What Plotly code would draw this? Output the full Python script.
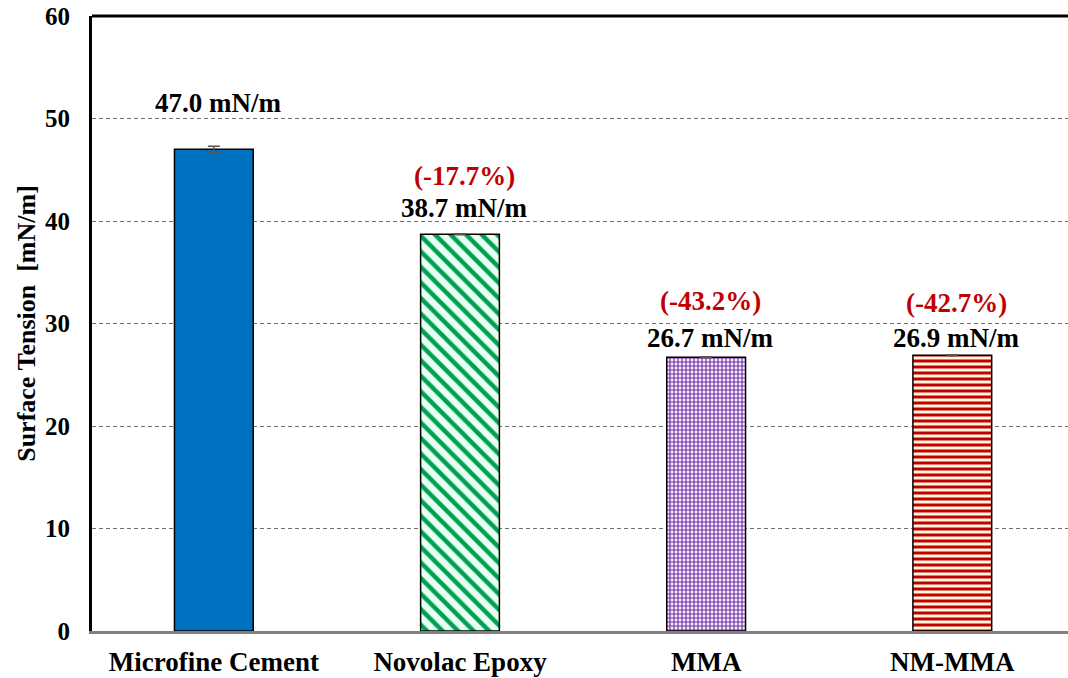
import plotly.graph_objects as go

categories = ["Microfine Cement", "Novolac Epoxy", "MMA", "NM-MMA"]
values = [47.0, 38.7, 26.7, 26.9]
errors = [0.3, 0.05, 0.05, 0.05]
value_labels = ["47.0 mN/m", "38.7 mN/m", "26.7 mN/m", "26.9 mN/m"]
pct_labels = ["", "(-17.7%)", "(-43.2%)", "(-42.7%)"]
y_ticks = [0, 10, 20, 30, 40, 50, 60]

FONT = "Liberation Serif"
bg_colors = ["#0070C0", "#E6FFF5", "#F6ECFF", "#FFF6DC"]
fg_colors = ["#0070C0", "#00A050", "#7030A0", "#C00000"]
shapes_p = ["", "\\", "+", "-"]
sizes_p = [8, 11, 4, 6]
solid_p = [0.5, 0.4, 0.5, 0.5]

fig = go.Figure()
for i in range(len(categories)):
    pat = dict(shape=shapes_p[i], fgcolor=fg_colors[i], bgcolor=bg_colors[i],
               size=sizes_p[i], solidity=solid_p[i], fillmode="overlay", fgopacity=1)
    fig.add_trace(go.Bar(
        x=[i], y=[values[i]], width=0.32,
        marker=dict(color=bg_colors[i], line=dict(color="black", width=1.5), pattern=pat),
        error_y=dict(type="data", array=[errors[i]], color="#555555", thickness=1.5, width=6),
        showlegend=False,
    ))

label_offsets = [4.5, 2.6, 1.9, 1.7]
pct_offsets = [0, 5.7, 5.5, 5.1]
for i, (v, lab, pct) in enumerate(zip(values, value_labels, pct_labels)):
    fig.add_annotation(x=i, y=v + label_offsets[i], text=lab, showarrow=False, xshift=4,
                       font=dict(family=FONT, size=27, color="black", weight="bold"))
    if pct:
        fig.add_annotation(x=i, y=v + pct_offsets[i], text=pct, showarrow=False, xshift=4,
                           font=dict(family=FONT, size=27, color="#C00000", weight="bold"))

fig.add_shape(type="line", xref="paper", yref="paper", x0=0, x1=1, y0=1, y1=1,
              line=dict(color="black", width=3))

fig.update_layout(
    width=1068, height=678,
    margin=dict(l=92, r=0, t=16, b=47),
    barmode="overlay",
    paper_bgcolor="white", plot_bgcolor="white",
    font=dict(family=FONT, color="black"),
    xaxis=dict(
        tickmode="array", tickvals=list(range(len(categories))), ticktext=categories,
        range=[-0.495, 3.47], showgrid=False, zeroline=False, automargin=False,
        showline=True, linecolor="#808080", linewidth=3,
        ticks="", ticklabelstandoff=5, ticklabeloverflow="allow",
        tickfont=dict(family=FONT, size=27, color="black", weight="bold"),
    ),
    yaxis=dict(
        range=[0, 60], tickvals=y_ticks, showgrid=True, gridcolor="#707070",
        griddash="4px,3px", gridwidth=1, zeroline=False, automargin=False,
        showline=True, linecolor="black", linewidth=3,
        ticks="", ticklabelstandoff=14, ticklabeloverflow="allow",
        tickfont=dict(family=FONT, size=25, color="black", weight="bold"),
        title=dict(text="Surface Tension  [mN/m]", standoff=2,
                   font=dict(family=FONT, size=26, color="black", weight="bold")),
    ),
)

fig.write_html("out.html", config={"displayModeBar": False},
               post_script="document.body.style.margin='0';")
